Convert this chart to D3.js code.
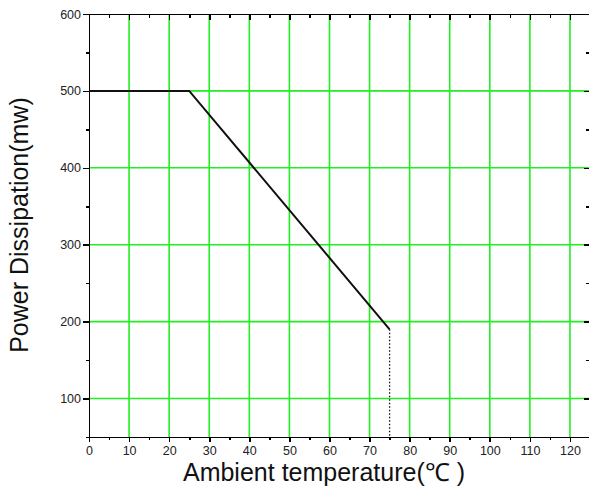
<!DOCTYPE html>
<html lang="en">
	<head>
		<meta charset="utf-8">
		<title>Power dissipation vs ambient temperature</title>
		<script type="text/javascript" src="https://cdn.jsdelivr.net/npm/d3@7"></script>
		<style type="text/css">
			body { margin: 0; background: #fff; }
			.axis path, .axis line {
				stroke: #000;
				stroke-width: 1.6;
				shape-rendering: crispEdges;
			}
			.axis text {
				font-family: "Liberation Sans", Arial, sans-serif;
				font-size: 12.5px;
				fill: #222;
			}
			.grid line {
				stroke: #22ee22;
				stroke-width: 1.6;
			}
			.label {
				font-family: "Liberation Sans", Arial, sans-serif;
				font-size: 25px;
				fill: #111;
			}
		</style>
	</head>
	<body>
		<script type="text/javascript">

			// curve: temperature (C) vs allowed power (mW)
			var temps = [0, 25, 75];
			var power = [500, 500, 190];
			var cutoffTemp = 75;

			var xTicks = [0, 10, 20, 30, 40, 50, 60, 70, 80, 90, 100, 110, 120];
			var xMinor = [5, 15, 25, 35, 45, 55, 65, 75, 85, 95, 105, 115, 125];
			var yTicks = [100, 200, 300, 400, 500, 600];
			var yMinor = [50, 150, 250, 350, 450, 550];

			var margin = {top: 14, right: 0, bottom: 56, left: 89};
			var W = 589, H = 493;
			var w = 501, h = 423;

			var xScale = d3.scaleLinear().domain([0, 125]).range([0, w]);
			var yScale = d3.scaleLinear().domain([50, 600]).range([h, 0]);

			var svg = d3.select("body").append("svg")
				.attr("width", W)
				.attr("height", H);

			var g = svg.append("g")
				.attr("transform", "translate(" + margin.left + "," + margin.top + ")");

			// green grid
			var grid = g.append("g").attr("class", "grid");
			grid.selectAll(".vx")
				.data(xTicks.filter(function(d) { return d > 0; }))
				.enter().append("line")
				.attr("x1", function(d) { return xScale(d); })
				.attr("x2", function(d) { return xScale(d); })
				.attr("y1", 0)
				.attr("y2", h);
			grid.selectAll(".hy")
				.data(yTicks.filter(function(d) { return d < 600; }))
				.enter().append("line")
				.attr("x1", 0)
				.attr("x2", w)
				.attr("y1", function(d) { return yScale(d); })
				.attr("y2", function(d) { return yScale(d); });

			// axes: bottom/left outside ticks, top/right inside ticks
			var bottom = g.append("g").attr("class", "axis")
				.attr("transform", "translate(0," + h + ")")
				.call(d3.axisBottom(xScale).tickValues(xTicks).tickSize(5).tickSizeOuter(0));
			bottom.selectAll("text").attr("dy", "0.8em");
			g.append("g").attr("class", "axis")
				.attr("transform", "translate(0," + h + ")")
				.call(d3.axisBottom(xScale).tickValues(xMinor).tickSize(3).tickFormat("").tickSizeOuter(0))
				.select(".domain").remove();

			g.append("g").attr("class", "axis")
				.call(d3.axisLeft(yScale).tickValues(yTicks).tickSize(6).tickPadding(2).tickSizeOuter(0)
					.tickFormat(function(d) { return d; }));
			g.append("g").attr("class", "axis")
				.call(d3.axisLeft(yScale).tickValues(yMinor).tickSize(3).tickFormat("").tickSizeOuter(0))
				.select(".domain").remove();

			g.append("g").attr("class", "axis")
				.call(d3.axisBottom(xScale).tickValues(xTicks).tickSize(6).tickFormat("").tickSizeOuter(0));
			g.append("g").attr("class", "axis")
				.call(d3.axisBottom(xScale).tickValues(xMinor).tickSize(4).tickFormat("").tickSizeOuter(0))
				.select(".domain").remove();

			g.append("g").attr("class", "axis")
				.attr("transform", "translate(" + w + ",0)")
				.call(d3.axisLeft(yScale).tickValues(yTicks).tickSize(6).tickFormat("").tickSizeOuter(0));
			g.append("g").attr("class", "axis")
				.attr("transform", "translate(" + w + ",0)")
				.call(d3.axisLeft(yScale).tickValues(yMinor).tickSize(4).tickFormat("").tickSizeOuter(0))
				.select(".domain").remove();

			// derating curve
			var pts = temps.map(function(t, i) { return [t, power[i]]; });
			var line = d3.line()
				.x(function(d) { return xScale(d[0]); })
				.y(function(d) { return yScale(d[1]); });
			g.append("path")
				.datum(pts)
				.attr("d", line)
				.attr("fill", "none")
				.attr("stroke", "#111")
				.attr("stroke-width", 2);

			// dotted drop at cutoff
			g.append("line")
				.attr("x1", xScale(cutoffTemp))
				.attr("x2", xScale(cutoffTemp))
				.attr("y1", yScale(power[power.length - 1]))
				.attr("y2", h)
				.attr("stroke", "#111")
				.attr("stroke-width", 1.3)
				.attr("stroke-dasharray", "1.5,2");

			// axis titles
			svg.append("text")
				.attr("class", "label")
				.attr("x", 324)
				.attr("y", 481)
				.attr("text-anchor", "middle")
				.text("Ambient temperature(\u2103 )");

			svg.append("text")
				.attr("class", "label")
				.attr("transform", "translate(28,225) rotate(-90)")
				.attr("text-anchor", "middle")
				.text("Power Dissipation(mw)");
		</script>
	</body>
</html>
